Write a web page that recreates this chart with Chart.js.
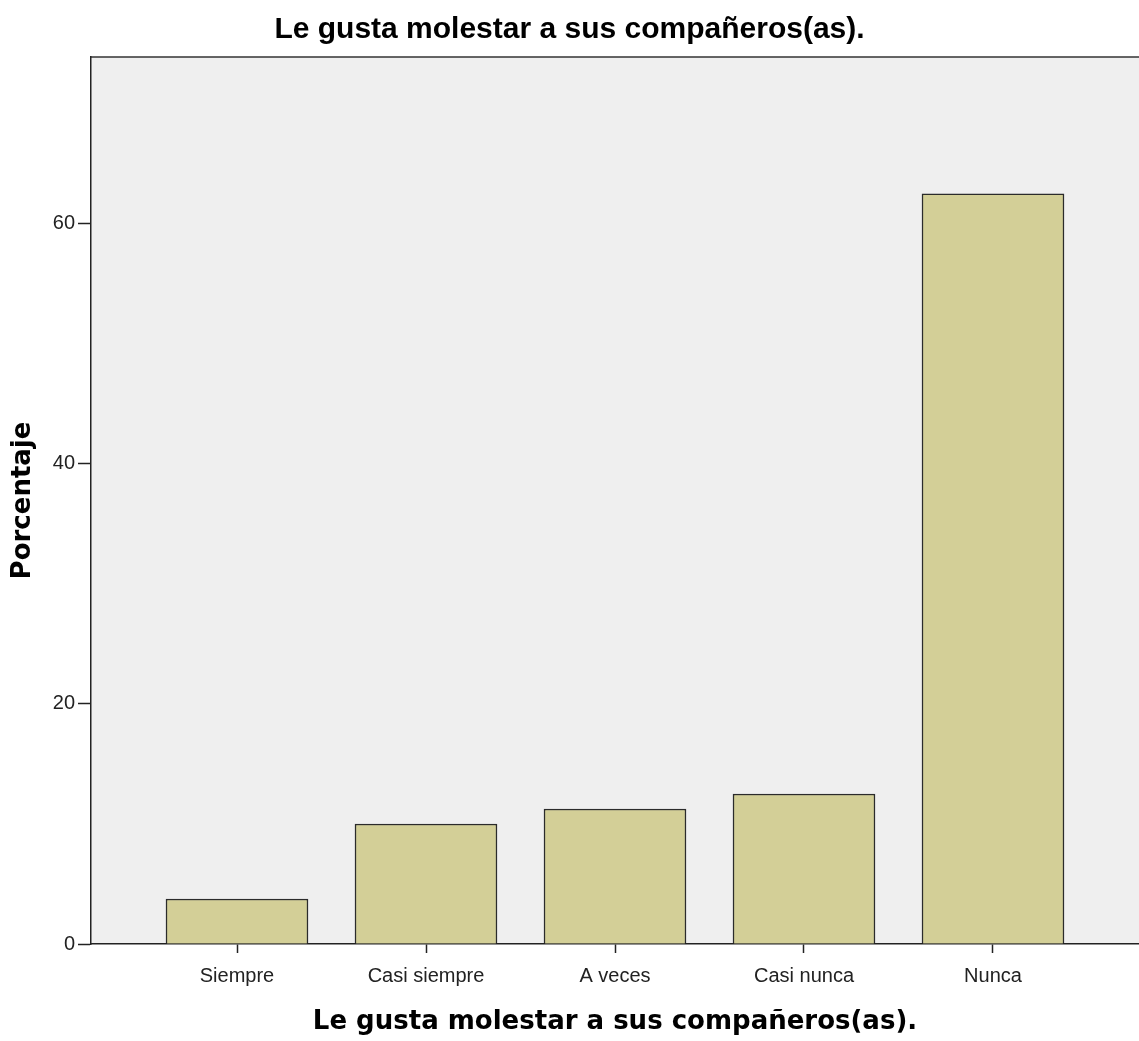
<!DOCTYPE html>
<html>
<head>
<meta charset="utf-8">
<script src="https://cdn.jsdelivr.net/npm/chart.js@4/dist/chart.umd.min.js"></script>
<style>
  html, body { margin: 0; padding: 0; background: #fff; }
  #wrap { width: 1139px; height: 1041px; }
</style>
</head>
<body>
<div id="wrap"><canvas id="barChart"></canvas></div>
<script>
const categories = ['Siempre', 'Casi siempre', 'A veces', 'Casi nunca', 'Nunca'];
const percentages = [3.75, 10, 11.25, 12.5, 62.5];
const yTicks = [0, 20, 40, 60];
const chartTitle = 'Le gusta molestar a sus compañeros(as).';

const tickFont = { family: "'Liberation Sans', Arial, sans-serif", size: 20 };

// gray plot background + top frame line, like the SPSS output
const plotFrame = {
  id: 'plotFrame',
  beforeDraw: (chart) => {
    const { ctx, chartArea: a } = chart;
    ctx.save();
    ctx.fillStyle = '#efefef';
    ctx.fillRect(a.left, a.top, a.right - a.left, a.bottom - a.top);
    ctx.strokeStyle = '#333';
    ctx.lineWidth = 1.5;
    ctx.beginPath();
    ctx.moveTo(a.left, a.top);
    ctx.lineTo(a.right, a.top);
    ctx.stroke();
    ctx.restore();
  }
};

const buildChart = () => {
  const ctx = document.getElementById('barChart');
  return new Chart(ctx, {
    type: 'bar',
    data: {
      datasets: [
        {
          data: percentages.map((v, i) => ({ x: i, y: v })),
          backgroundColor: '#d3cf97',
          borderColor: '#2b2b2b',
          borderWidth: 1.5,
          barThickness: 142
        }
      ]
    },
    options: {
      responsive: true,
      maintainAspectRatio: false,
      animation: false,
      layout: { padding: 0 },
      plugins: {
        legend: { display: false },
        tooltip: { enabled: false },
        title: {
          display: true,
          text: chartTitle,
          color: '#000',
          font: { family: 'Liberation Sans', size: 30, weight: 'bold' },
          padding: { top: 11.5, bottom: 9.5 }
        }
      },
      scales: {
        x: {
          type: 'linear',
          min: -0.7725,
          max: 4.7725,
          offset: false,
          afterFit: (s) => { s.height = 97; },
          afterBuildTicks: (s) => { s.ticks = categories.map((c, i) => ({ value: i })); },
          grid: { display: true, offset: false, drawOnChartArea: false, drawTicks: true, tickLength: 9, tickColor: '#222', tickWidth: 1.5 },
          border: { display: true, color: '#222', width: 1.5 },
          ticks: {
            autoSkip: false,
            maxRotation: 0,
            padding: 11,
            color: '#222',
            font: tickFont,
            callback: (v) => categories[v] ?? ''
          },
          title: {
            display: true,
            text: chartTitle,
            color: '#000',
            font: { family: 'DejaVu Sans', size: 26, weight: 'bold' },
            padding: { top: 0, bottom: 3 }
          }
        },
        y: {
          min: 0,
          max: 73.9,
          afterFit: (s) => { s.width = 91; },
          afterBuildTicks: (s) => { s.ticks = yTicks.map((v) => ({ value: v })); },
          grid: { display: true, drawOnChartArea: false, drawTicks: true, tickLength: 13, tickColor: '#222', tickWidth: 1.5 },
          border: { display: true, color: '#222', width: 1.5 },
          ticks: {
            padding: 3,
            color: '#222',
            font: tickFont
          },
          title: {
            display: true,
            text: 'Porcentaje',
            color: '#000',
            font: { family: 'DejaVu Sans', size: 26, weight: 'bold' },
            padding: { top: 7.4, bottom: 0 }
          }
        }
      }
    },
    plugins: [plotFrame]
  });
};

buildChart();
</script>
</body>
</html>
